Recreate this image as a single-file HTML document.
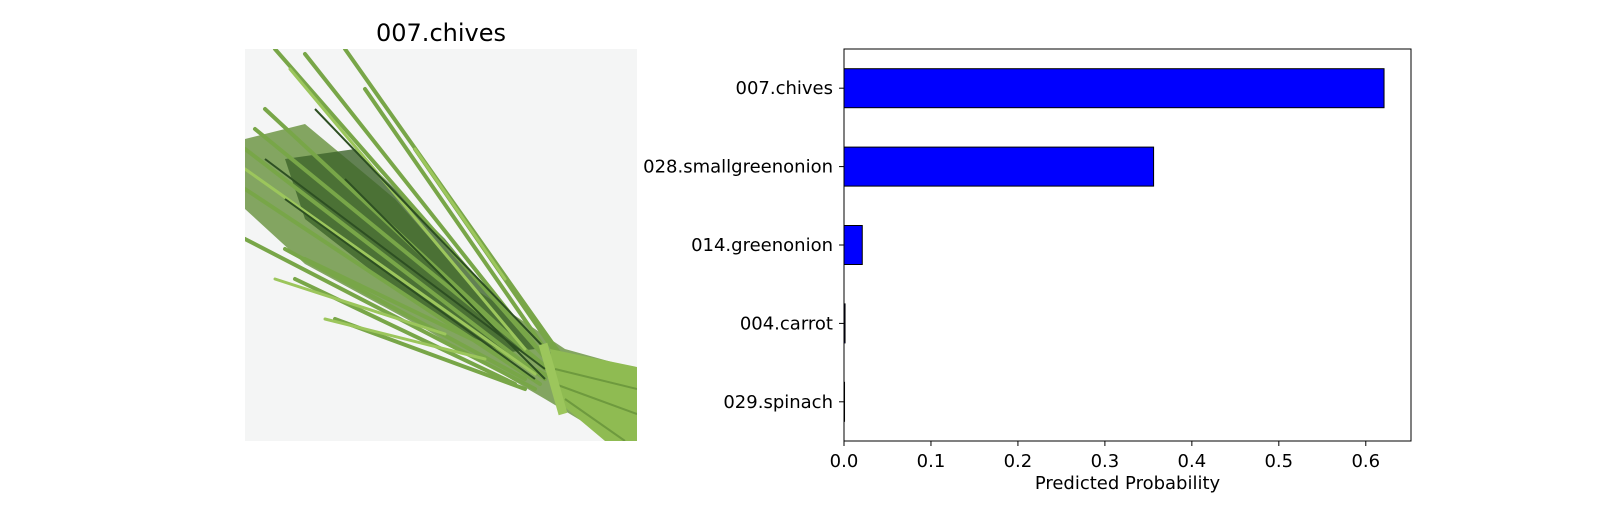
<!DOCTYPE html>
<html><head><meta charset="utf-8"><style>
body{margin:0;background:#fff;width:1600px;height:500px;overflow:hidden;font-family:"Liberation Sans","DejaVu Sans",sans-serif}
svg text{font-family:"DejaVu Sans","Liberation Sans",sans-serif}
</style></head><body>
<svg width="1600" height="500">
<defs><clipPath id="imgclip"><rect width="392" height="392"/></clipPath></defs>
<text x="441" y="41" font-size="24" text-anchor="middle">007.chives</text>
<g transform="translate(245,49)" clip-path="url(#imgclip)">
<rect width="392" height="392" fill="#f4f5f5"/>
<polygon points="0,90 60,75 150,150 230,240 320,300 392,320 392,392 370,392 300,350 180,280 60,215 0,160" fill="#6e9746" opacity="0.85"/>
<polygon points="40,110 110,100 200,190 290,300 250,305 150,240 60,170" fill="#3d642b" opacity="0.8"/>
<g stroke="#78a648" stroke-width="4" fill="none" stroke-linecap="round">
<path d="M30,0 L310,320"/><path d="M60,5 L305,315"/><path d="M100,0 L320,312"/><path d="M20,60 L300,320"/>
<path d="M0,100 L300,330"/><path d="M0,140 L295,335"/><path d="M0,190 L290,340"/><path d="M40,200 L280,330"/>
<path d="M50,230 L270,335"/><path d="M90,270 L280,340"/><path d="M170,100 L315,310"/><path d="M120,40 L300,300"/>
<path d="M60,210 L310,330"/><path d="M10,80 L310,325"/>
</g>
<g stroke="#9cc65c" stroke-width="3" fill="none" stroke-linecap="round">
<path d="M170,100 L260,230"/><path d="M45,20 L280,300"/><path d="M0,120 L290,325"/><path d="M30,230 L200,285"/><path d="M80,270 L240,310"/>
</g>
<g stroke="#2d4f22" stroke-width="2" fill="none">
<path d="M20,110 L300,320"/><path d="M70,60 L310,310"/><path d="M40,150 L290,330"/><path d="M100,130 L300,330"/>
</g>
<polygon points="305,300 392,318 392,392 360,392 310,350" fill="#8fbb52"/>
<g stroke="#6e9a3e" stroke-width="2"><path d="M310,320 L392,340"/><path d="M310,335 L392,365"/><path d="M320,350 L380,392"/></g>
<path d="M298,295 L318,365" stroke="#9cc65c" stroke-width="9"/>
</g>
<g id="chart"></g>
</svg>
<script>
const categories=["007.chives","028.smallgreenonion","014.greenonion","004.carrot","029.spinach"];
const probabilities=[0.621,0.356,0.021,0.0012,0.0006];
const xTicks=[0,0.1,0.2,0.3,0.4,0.5,0.6];
const tickLabels=["0.0","0.1","0.2","0.3","0.4","0.5","0.6"];
const NS="http://www.w3.org/2000/svg";
const g=document.getElementById('chart');
const L=844,R=1411,T=49,B=441,xmax=0.652;
const xs=v=>L+v/xmax*(R-L);
const step=(B-T)/categories.length;
const yc=i=>T+step*(i+0.5);
function mk(tag,a){const e=document.createElementNS(NS,tag);for(const k in a)e.setAttribute(k,a[k]);g.appendChild(e);return e;}
categories.forEach((c,i)=>{
 const b=mk('rect',{x:L,y:yc(i)-19.5,width:Math.max(xs(probabilities[i])-L,0.5),height:39,fill:'#0000ff',stroke:'#000','stroke-width':1});
 
 
 mk('line',{x1:L-5,x2:L,y1:yc(i),y2:yc(i),stroke:'#000'});
 const t=mk('text',{x:L-11,y:yc(i)+6,'font-size':18,'text-anchor':'end'});t.textContent=c;
 
 
});
xTicks.forEach((v,i)=>{
 mk('line',{x1:xs(v),x2:xs(v),y1:B,y2:B+5,stroke:'#000'});
 const t=mk('text',{x:xs(v),y:B+26,'font-size':18,'text-anchor':'middle'});t.textContent=tickLabels[i];
 
 
});
const fr=mk('rect',{x:L,y:T,width:R-L,height:B-T,fill:'none',stroke:'#000','stroke-width':1});


const xt=mk('text',{x:(L+R)/2,y:489,'font-size':18,'text-anchor':'middle'});xt.textContent='Predicted Probability';


</script>
</body></html>
